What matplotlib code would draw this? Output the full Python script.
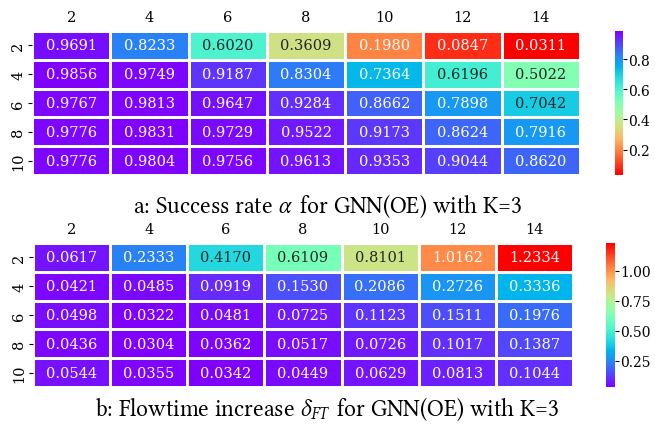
import matplotlib
matplotlib.use("Agg")
import matplotlib.pyplot as plt
import numpy as np
import seaborn as sns

cols = [2, 4, 6, 8, 10, 12, 14]
rows = [2, 4, 6, 8, 10]

success = [
    [0.9691, 0.8233, 0.6020, 0.3609, 0.1980, 0.0847, 0.0311],
    [0.9856, 0.9749, 0.9187, 0.8304, 0.7364, 0.6196, 0.5022],
    [0.9767, 0.9813, 0.9647, 0.9284, 0.8662, 0.7898, 0.7042],
    [0.9776, 0.9831, 0.9729, 0.9522, 0.9173, 0.8624, 0.7916],
    [0.9776, 0.9804, 0.9756, 0.9613, 0.9353, 0.9044, 0.8620],
]
flowtime = [
    [0.0617, 0.2333, 0.4170, 0.6109, 0.8101, 1.0162, 1.2334],
    [0.0421, 0.0485, 0.0919, 0.1530, 0.2086, 0.2726, 0.3336],
    [0.0498, 0.0322, 0.0481, 0.0725, 0.1123, 0.1511, 0.1976],
    [0.0436, 0.0304, 0.0362, 0.0517, 0.0726, 0.1017, 0.1387],
    [0.0544, 0.0355, 0.0342, 0.0449, 0.0629, 0.0813, 0.1044],
]
ticks1 = [0.2, 0.4, 0.6, 0.8]
ticks2 = [0.25, 0.50, 0.75, 1.00]

plt.rcParams['font.family'] = 'serif'
plt.rcParams['font.serif'] = ['DejaVu Serif']
plt.rcParams['mathtext.fontset'] = 'custom'
plt.rcParams['mathtext.rm'] = 'Libertinus Serif'
plt.rcParams['mathtext.it'] = 'Libertinus Serif:italic'
plt.rcParams['mathtext.bf'] = 'Libertinus Serif:bold'

fig = plt.figure(figsize=(6.55, 4.27), dpi=100)
W, H = 655, 427

def box(x0, y0, x1, y1):
    return [x0 / W, 1 - y1 / H, (x1 - x0) / W, (y1 - y0) / H]

ax1 = fig.add_axes(box(32, 32, 580, 176))
cax1 = fig.add_axes(box(615, 32, 623, 176))
ax2 = fig.add_axes(box(33, 244, 573, 388))
cax2 = fig.add_axes(box(606, 244, 615, 388))

def draw(ax, cax, data, cmap, ticks, fmt):
    sns.heatmap(np.array(data), ax=ax, cbar_ax=cax, cmap=cmap, annot=True, fmt=".4f",
                linewidths=0.8, linecolor='white', xticklabels=cols, yticklabels=rows,
                annot_kws={'fontsize': 10.5, 'family': 'DejaVu Serif'})
    ax.xaxis.tick_top()
    ax.tick_params(axis='x', length=0, labelsize=10.5, pad=5)
    ax.tick_params(axis='y', length=3, labelsize=10.5, rotation=90, pad=2)
    for t in ax.get_xticklabels() + ax.get_yticklabels():
        t.set_family('DejaVu Serif')
    for t in ax.get_yticklabels():
        t.set_va('center')
    cax.set_yticks(ticks)
    cax.set_yticklabels([fmt.format(t) for t in ticks], family='DejaVu Serif')
    cax.tick_params(labelsize=10, length=3, pad=1)
    for s in cax.spines.values():
        s.set_visible(False)

draw(ax1, cax1, success, 'rainbow_r', ticks1, "{:.1f}")
draw(ax2, cax2, flowtime, 'rainbow', ticks2, "{:.2f}")

fig.text(0.5, 1 - 207 / H, r"a: Success rate $\alpha\,$ for GNN(OE) with K=3",
         ha='center', va='center', fontsize=17, family='Libertinus Serif')
fig.text(0.5, 1 - 410 / H, r"b: Flowtime increase $\delta_{FT}\,$ for GNN(OE) with K=3",
         ha='center', va='center', fontsize=17, family='Libertinus Serif')

fig.savefig("out.png", dpi=100)
